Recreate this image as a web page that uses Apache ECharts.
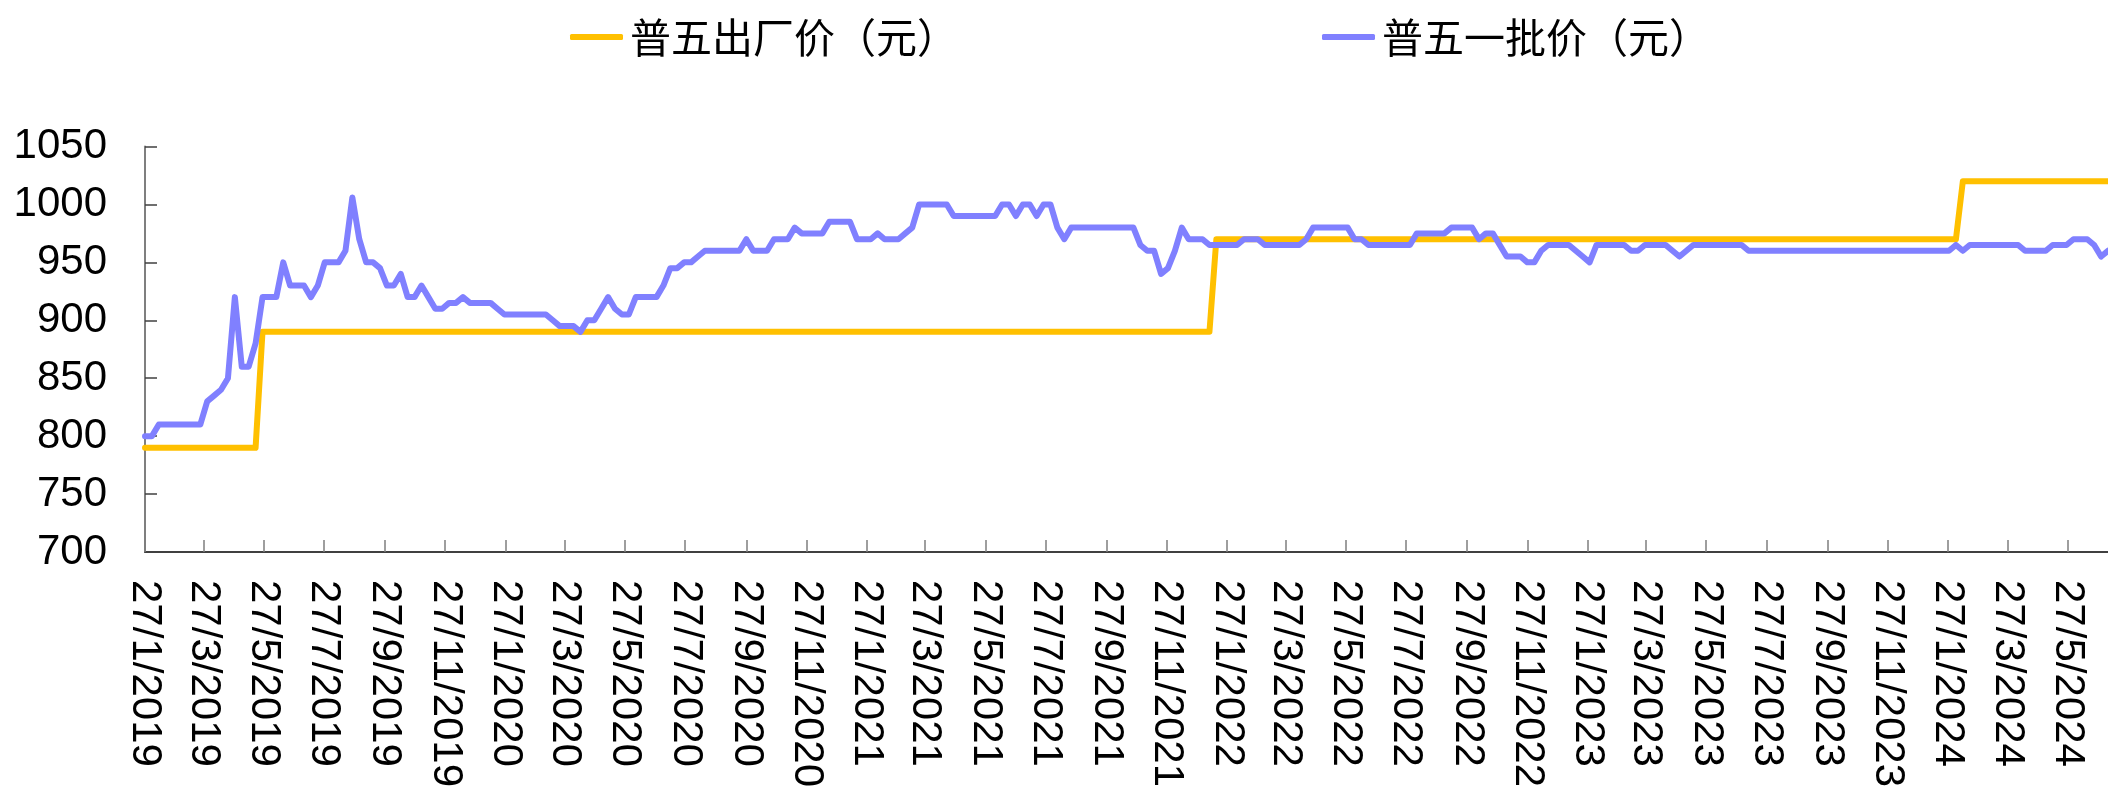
<!DOCTYPE html>
<html>
<head>
<meta charset="utf-8">
<script src="https://cdn.jsdelivr.net/npm/echarts@6/dist/echarts.min.js"></script>
<style>
  html, body { margin: 0; padding: 0; background: #fff; }
  #chart { width: 2108px; height: 789px; }
</style>
</head>
<body>
<div id="chart"></div>
<script>
// 周度数据，从 2019-01-27 开始，横轴单位为天
const startDate = '2019-01-27';
const weekCount = 285;

// 普五一批价（元），每周一个值
const wholesalePrice = [
  800, 800, 810, 810, 810, 810, 810, 810, 810, 830,
  835, 840, 850, 920, 860, 860, 880, 920, 920, 920,
  950, 930, 930, 930, 920, 930, 950, 950, 950, 960,
  1006, 970, 950, 950, 945, 930, 930, 940, 920, 920,
  930, 920, 910, 910, 915, 915, 920, 915, 915, 915,
  915, 910, 905, 905, 905, 905, 905, 905, 905, 900,
  895, 895, 895, 890, 900, 900, 910, 920, 910, 905,
  905, 920, 920, 920, 920, 930, 945, 945, 950, 950,
  955, 960, 960, 960, 960, 960, 960, 970, 960, 960,
  960, 970, 970, 970, 980, 975, 975, 975, 975, 985,
  985, 985, 985, 970, 970, 970, 975, 970, 970, 970,
  975, 980, 1000, 1000, 1000, 1000, 1000, 990, 990, 990,
  990, 990, 990, 990, 1000, 1000, 990, 1000, 1000, 990,
  1000, 1000, 980, 970, 980, 980, 980, 980, 980, 980,
  980, 980, 980, 980, 965, 960, 960, 940, 945, 960,
  980, 970, 970, 970, 965, 965, 965, 965, 965, 970,
  970, 970, 965, 965, 965, 965, 965, 965, 970, 980,
  980, 980, 980, 980, 980, 970, 970, 965, 965, 965,
  965, 965, 965, 965, 975, 975, 975, 975, 975, 980,
  980, 980, 980, 970, 975, 975, 965, 955, 955, 955,
  950, 950, 960, 965, 965, 965, 965, 960, 955, 950,
  965, 965, 965, 965, 965, 960, 960, 965, 965, 965,
  965, 960, 955, 960, 965, 965, 965, 965, 965, 965,
  965, 965, 960, 960, 960, 960, 960, 960, 960, 960,
  960, 960, 960, 960, 960, 960, 960, 960, 960, 960,
  960, 960, 960, 960, 960, 960, 960, 960, 960, 960,
  960, 960, 965, 960, 965, 965, 965, 965, 965, 965,
  965, 965, 960, 960, 960, 960, 965, 965, 965, 970,
  970, 970, 965, 955, 960
];

// 普五出厂价（元）：调价前后的周序号与价格
const factoryWeeks = [0, 16, 17, 154, 155, 262, 263, 284];
const factoryPrice = [790, 790, 890, 890, 970, 970, 1020, 1020];

// 横轴刻度（每两个月的 27 日）
const tickDates = [
  '2019-01-27', '2019-03-27', '2019-05-27', '2019-07-27', '2019-09-27', '2019-11-27',
  '2020-01-27', '2020-03-27', '2020-05-27', '2020-07-27', '2020-09-27', '2020-11-27',
  '2021-01-27', '2021-03-27', '2021-05-27', '2021-07-27', '2021-09-27', '2021-11-27',
  '2022-01-27', '2022-03-27', '2022-05-27', '2022-07-27', '2022-09-27', '2022-11-27',
  '2023-01-27', '2023-03-27', '2023-05-27', '2023-07-27', '2023-09-27', '2023-11-27',
  '2024-01-27', '2024-03-27', '2024-05-27'
];
const yTicks = [700, 750, 800, 850, 900, 950, 1000, 1050];

const seriesNames = ['普五出厂价（元）', '普五一批价（元）'];
const colors = ['#FFC000', '#8080FF'];

const DAY = 86400000;
function utc(s) {
  const p = s.split('-').map(Number);
  return Date.UTC(p[0], p[1] - 1, p[2]);
}
const t0 = utc(startDate);
function dayOf(s) {
  return Math.round((utc(s) - t0) / DAY);
}

const weekDays = [];
for (let i = 0; i < weekCount; i++) weekDays.push(i * 7);
const tickDays = tickDates.map(dayOf);

const chart = echarts.init(document.getElementById('chart'));

function legendAt(left, name) {
  return {
    left: left,
    top: 11,
    icon: 'roundRect',
    itemWidth: 53,
    itemHeight: 6,
    textStyle: {
      fontFamily: 'Noto Sans CJK SC',
      fontSize: 41,
      lineHeight: 42,
      color: '#000',
      padding: [0, 0, 0, 2]
    },
    data: [name]
  };
}

const option = {
  animation: false,
  backgroundColor: '#fff',
  legend: [
    legendAt(565, seriesNames[0]),
    legendAt(1317, seriesNames[1])
  ],
  grid: {
    left: 145,
    right: 0,
    top: 146.5,
    bottom: 237,
    outerBoundsMode: 'none'
  },
  xAxis: {
    type: 'value',
    min: weekDays[0],
    max: weekDays[weekDays.length - 1],
    splitLine: { show: false },
    axisLine: { show: true, lineStyle: { color: '#404040', width: 2 } },
    axisTick: {
      show: true,
      inside: true,
      length: 12,
      customValues: tickDays,
      lineStyle: { color: '#7f7f7f', width: 1.5 }
    },
    axisLabel: {
      customValues: tickDays,
      rotate: -90,
      margin: 28,
      fontFamily: 'Liberation Sans',
      fontSize: 42,
      color: '#000',
      formatter: function (v) {
        const d = new Date(t0 + v * DAY);
        return d.getUTCDate() + '/' + (d.getUTCMonth() + 1) + '/' + d.getUTCFullYear();
      }
    }
  },
  yAxis: {
    type: 'value',
    min: yTicks[0],
    max: yTicks[yTicks.length - 1],
    interval: 50,
    splitLine: { show: false },
    axisLine: { show: true, lineStyle: { color: '#7f7f7f', width: 2 } },
    axisTick: {
      show: true,
      inside: true,
      length: 12,
      lineStyle: { color: '#404040', width: 1.5 }
    },
    axisLabel: {
      margin: 38,
      fontFamily: 'Liberation Sans',
      fontSize: 42,
      color: '#000',
      formatter: function (v) { return String(v); }
    }
  },
  series: [
    {
      name: seriesNames[0],
      type: 'line',
      symbol: 'none',
      showSymbol: false,
      color: colors[0],
      lineStyle: { color: colors[0], width: 6, cap: 'round', join: 'round' },
      data: factoryWeeks.map((w, i) => [weekDays[w], factoryPrice[i]])
    },
    {
      name: seriesNames[1],
      type: 'line',
      symbol: 'none',
      showSymbol: false,
      color: colors[1],
      lineStyle: { color: colors[1], width: 6, cap: 'round', join: 'round' },
      data: weekDays.map((d, i) => [d, wholesalePrice[i]])
    }
  ]
};

chart.setOption(option);
</script>
</body>
</html>
